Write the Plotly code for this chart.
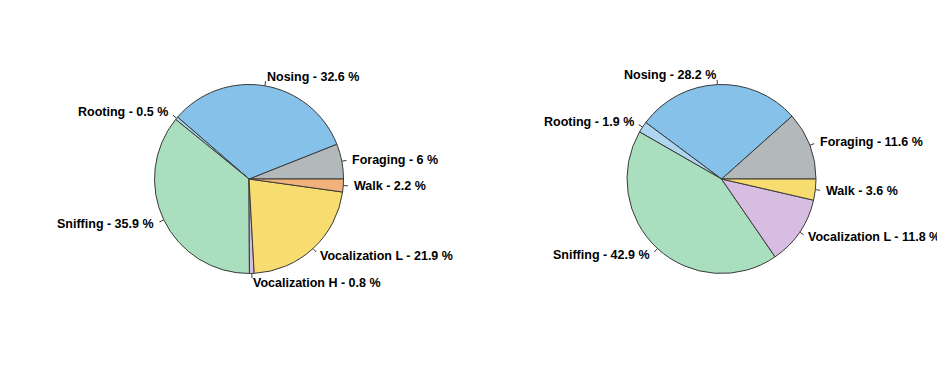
import math
import plotly.graph_objects as go

# ---- data ----
left_labels = ["Foraging", "Nosing", "Rooting", "Sniffing", "Vocalization H", "Vocalization L", "Walk"]
left_values = [6, 32.6, 0.5, 35.9, 0.8, 21.9, 2.2]
left_colors = ["#B3B9BA", "#85C1E9", "#AED6F1", "#A9DFBF", "#D7BDE2", "#F7DC6F", "#F0B27A"]

right_labels = ["Foraging", "Nosing", "Rooting", "Sniffing", "Vocalization L", "Walk"]
right_values = [11.6, 28.2, 1.9, 42.9, 11.8, 3.6]
right_colors = ["#B3B9BA", "#85C1E9", "#AED6F1", "#A9DFBF", "#D7BDE2", "#F7DC6F"]

# ---- layout (page pixels; the page body has an 8px margin) ----
PAGE_W, PAGE_H = 945, 372
OFF = 8
W, H = PAGE_W - OFF, PAGE_H - OFF
R = 94.5
pies = [
    (left_labels, left_values, left_colors, (249.0, 179.0)),
    (right_labels, right_values, right_colors, (721.5, 179.0)),
]
FONT = dict(family="Liberation Sans, Arial, sans-serif", size=12.5, color="#000000", weight="bold")
EDGE = "#3a3a3a"


def px(x):
    return (x - OFF) / W


def py(y):
    return 1 - (y - OFF) / H


fig = go.Figure()
annotations = []
shapes = []

for labels, values, colors, (cx, cy) in pies:
    total = sum(values)
    # plotly (counterclockwise) places the first slice clockwise of `rotation`;
    # shift so the first slice starts at 3 o'clock and runs counterclockwise.
    rot = 90 - 360.0 * values[0] / total
    fig.add_trace(go.Pie(
        labels=labels, values=values, sort=False, direction="counterclockwise",
        rotation=rot, textinfo="none", hoverinfo="label+percent",
        marker=dict(colors=colors, line=dict(color=EDGE, width=1)),
        domain=dict(x=[px(cx - R), px(cx + R)], y=[py(cy + R), py(cy - R)]),
        showlegend=False,
    ))
    cum = 0.0
    for lab, v in zip(labels, values):
        mid = 2 * math.pi * (cum + v / 2) / total
        cum += v
        c, s = math.cos(mid), math.sin(mid)
        x0, y0 = cx + R * c, cy - R * s
        x1, y1 = cx + 1.05 * R * c, cy - 1.05 * R * s
        xt, yt = cx + 1.1 * R * c, cy - 1.1 * R * s
        shapes.append(dict(type="line", xref="paper", yref="paper",
                           x0=px(x0), y0=py(y0), x1=px(x1), y1=py(y1),
                           line=dict(color=EDGE, width=1)))
        annotations.append(dict(xref="paper", yref="paper", x=px(xt), y=py(yt),
                                text=f"{lab} - {v:g} %", showarrow=False,
                                xanchor="right" if c < 0 else "left", yanchor="middle",
                                font=FONT, borderpad=0))

fig.update_layout(
    width=W, height=H, margin=dict(l=0, r=0, t=0, b=0),
    paper_bgcolor="white", plot_bgcolor="white",
    annotations=annotations, shapes=shapes, showlegend=False,
)
fig.write_html("out.html")
